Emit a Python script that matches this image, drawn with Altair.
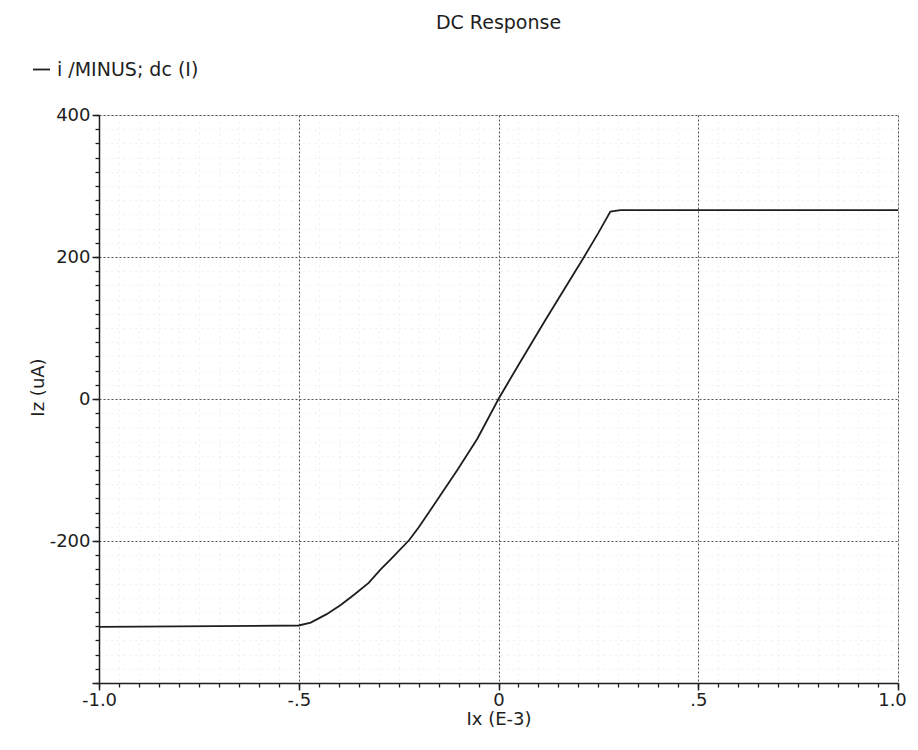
import altair as alt
import pandas as pd

# Curve (Ix in mA (E-3), Iz in uA)
ix = [-1.0, -0.5, -0.47, -0.43, -0.395, -0.36, -0.325, -0.295, -0.27, -0.224,
      -0.2, -0.153, -0.103, -0.053, 0.0, 0.05, 0.117, 0.165, 0.213, 0.25,
      0.28, 0.305, 1.0]
iz = [-321, -319, -315, -303, -290, -275, -259, -240, -226, -199,
      -181, -142, -100, -56, 0, 48, 111, 155, 199, 234,
      264, 266, 266]
series_name = "i /MINUS; dc (I)"

x_major = [-1.0, -0.5, 0.0, 0.5, 1.0]
y_major = [-400, -200, 0, 200, 400]
x_minor = [-1.0, -0.95, -0.9, -0.85, -0.8, -0.75, -0.7, -0.65, -0.6, -0.55,
           -0.5, -0.45, -0.4, -0.35, -0.3, -0.25, -0.2, -0.15, -0.1, -0.05,
           0.0, 0.05, 0.1, 0.15, 0.2, 0.25, 0.3, 0.35, 0.4, 0.45,
           0.5, 0.55, 0.6, 0.65, 0.7, 0.75, 0.8, 0.85, 0.9, 0.95, 1.0]
y_minor = [-400, -380, -360, -340, -320, -300, -280, -260, -240, -220,
           -200, -180, -160, -140, -120, -100, -80, -60, -40, -20,
           0, 20, 40, 60, 80, 100, 120, 140, 160, 180,
           200, 220, 240, 260, 280, 300, 320, 340, 360, 380, 400]

df = pd.DataFrame({"Ix": ix, "Iz": iz, "series": [series_name] * len(ix)})

FONT = "DejaVu Sans"
INK = "#1e1e1e"

xscale = alt.Scale(domain=[-1.0, 1.0], nice=False, zero=False)
yscale = alt.Scale(domain=[-400, 400], nice=False, zero=False)

x_label_expr = ("datum.value == -1 ? '-1.0' : datum.value == -0.5 ? '-.5' : "
                "datum.value == 0 ? '0' : datum.value == 0.5 ? '.5' : '1.0'")
y_label_expr = "datum.value == -400 ? '' : '' + datum.value"

line = alt.Chart(df).mark_line(strokeWidth=1.8, interpolate="linear").encode(
    x=alt.X("Ix:Q", scale=xscale,
            axis=alt.Axis(values=x_major, orient="bottom", title="Ix (E-3)",
                          labelExpr=x_label_expr, tickSize=7, tickWidth=1.5,
                          tickColor=INK, domainColor=INK, domainWidth=1.5,
                          grid=True, gridColor="#555555", gridDash=[2, 2],
                          gridWidth=1, labelFontSize=18, labelFont=FONT,
                          labelColor=INK, labelPadding=1, labelFlush=False,
                          labelOffset=alt.condition("datum.value == 1",
                                                    alt.value(-6),
                                                    alt.value(0)),
                          titleFont=FONT, titleFontSize=18,
                          titleFontWeight="normal", titleColor=INK,
                          titleX=399.5, titleY=36, titleBaseline="middle",
                          titleAlign="center")),
    y=alt.Y("Iz:Q", scale=yscale,
            axis=alt.Axis(values=y_major, orient="left", title="Iz (uA)",
                          labelExpr=y_label_expr, tickSize=7, tickWidth=1.5,
                          tickColor=INK, domainColor=INK, domainWidth=1.5,
                          grid=True, gridColor="#555555", gridDash=[2, 2],
                          gridWidth=1, labelFontSize=18, labelFont=FONT,
                          labelColor=INK, labelPadding=2, labelFlush=False,
                          titleFont=FONT, titleFontSize=18,
                          titleFontWeight="normal", titleColor=INK,
                          titleX=-61, titleY=272, titleBaseline="middle",
                          titleAlign="center", titleAngle=270)),
    color=alt.Color("series:N",
                    scale=alt.Scale(range=[INK]),
                    legend=alt.Legend(title=None, orient="none",
                                      legendX=-67, legendY=-55,
                                      symbolType="stroke", symbolSize=290,
                                      symbolStrokeWidth=1.8, labelFont=FONT,
                                      labelFontSize=19, labelColor=INK,
                                      labelOffset=6, padding=0)),
)

minor = alt.Chart(df).mark_point(opacity=0).encode(
    x=alt.X("Ix:Q", scale=xscale,
            axis=alt.Axis(values=x_minor, orient="bottom", title=None,
                          labels=False, domain=False, tickSize=4,
                          tickWidth=1.3, tickColor=INK, grid=True,
                          gridColor="#e2e2e2", gridDash=[1, 5], gridWidth=1)),
    y=alt.Y("Iz:Q", scale=yscale,
            axis=alt.Axis(values=y_minor, orient="left", title=None,
                          labels=False, domain=False, tickSize=4,
                          tickWidth=1.3, tickColor=INK, grid=True,
                          gridColor="#e2e2e2", gridDash=[1, 5], gridWidth=1)),
)

chart = alt.layer(minor, line).resolve_axis(
    x="independent", y="independent"
).properties(
    width=799,
    height=568,
    autosize=alt.AutoSizeParams(type="none"),
    padding={"left": 91, "top": 107, "right": 10, "bottom": 50},
    title=alt.Title("DC Response", anchor="middle", frame="group",
                    font=FONT, fontSize=19, fontWeight="normal", color=INK,
                    offset=27),
).configure_view(
    stroke=INK, strokeWidth=1.5
).configure(background="white")

chart.save("out.html", embed_options={"renderer": "svg", "actions": False})
